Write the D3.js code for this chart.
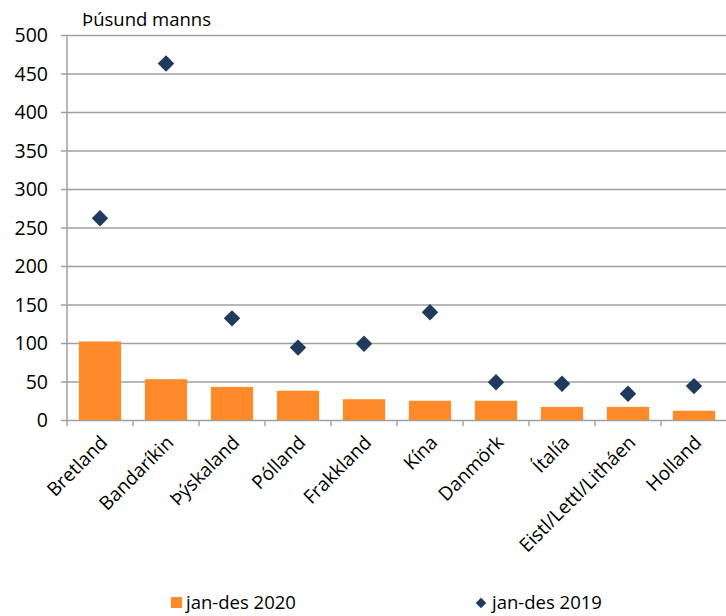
<!doctype html>
<html lang="is">
<head>
<meta charset="UTF-8">
<title>chart</title>
<script src="https://d3js.org/d3.v7.min.js"></script>
<style>
  body { margin: 0; background: #fff; }
  text { font-family: "Open Sans", sans-serif; fill: #000; }
</style>
</head>
<body>
<script>
  var countries = ["Bretland", "Bandaríkin", "Þýskaland", "Pólland", "Frakkland",
                   "Kína", "Danmörk", "Ítalía", "Eistl/Lettl/Litháen", "Holland"];
  var val2020 = [102, 53, 43, 38, 27, 25, 25, 17, 17, 12];
  var val2019 = [262, 463, 132, 94, 99, 140, 49, 47, 34, 44];
  var yTicks = [0, 50, 100, 150, 200, 250, 300, 350, 400, 450, 500];

  var width = 726, height = 616;
  var svg = d3.select("body").append("svg")
      .attr("width", width)
      .attr("height", height);

  var x = d3.scaleBand()
      .domain(countries)
      .range([67, 727])
      .paddingInner(0.36)
      .paddingOuter(0.18);

  var y = d3.scaleLinear()
      .domain([0, 500])
      .range([420, 35]);

  // grid
  svg.append("g")
      .attr("transform", "translate(67,0)")
      .call(d3.axisLeft(y).tickValues(yTicks).tickSize(-660).tickSizeOuter(0).tickFormat(""))
      .call(function(g) {
        g.select(".domain").remove();
        g.selectAll("line").attr("stroke", "#a0a0a0").attr("stroke-width", 1.5).attr("x1", -6);
      });

  // y axis labels
  svg.append("g")
      .selectAll("text")
      .data(yTicks)
      .enter().append("text")
      .attr("x", 48)
      .attr("y", function(d) { return y(d); })
      .attr("dy", "0.36em")
      .attr("text-anchor", "end")
      .style("font-size", "19.5px")
      .text(function(d) { return d; });

  // y axis line
  svg.append("line")
      .attr("x1", 67).attr("x2", 67)
      .attr("y1", y(500)).attr("y2", y(0))
      .attr("stroke", "#a0a0a0").attr("stroke-width", 1.5);

  // x ticks at band boundaries
  var step = x.step();
  var bounds = countries.map(function(c) { return x(c) - step * x.paddingInner() / 2; });
  bounds.push(bounds[bounds.length - 1] + step);
  svg.append("g")
      .selectAll("line")
      .data(bounds)
      .enter().append("line")
      .attr("x1", function(d) { return d; })
      .attr("x2", function(d) { return d; })
      .attr("y1", y(0)).attr("y2", y(0) + 6)
      .attr("stroke", "#a0a0a0").attr("stroke-width", 1.5);

  // bars
  svg.append("g")
      .selectAll("rect")
      .data(val2020)
      .enter().append("rect")
      .attr("x", function(d, i) { return x(countries[i]); })
      .attr("y", function(d) { return y(d); })
      .attr("width", x.bandwidth())
      .attr("height", function(d) { return y(0) - y(d); })
      .attr("fill", "#ff8a2a");

  // diamonds
  var diamond = d3.symbol().type(d3.symbolSquare).size(135);
  svg.append("g")
      .selectAll("path")
      .data(val2019)
      .enter().append("path")
      .attr("d", diamond)
      .attr("transform", function(d, i) {
        return "translate(" + (x(countries[i]) + x.bandwidth() / 2) + "," + y(d) + ") rotate(45)";
      })
      .attr("fill", "#1f3a5c");

  // x labels
  svg.append("g")
      .selectAll("text")
      .data(countries)
      .enter().append("text")
      .attr("transform", function(d) {
        return "translate(" + (x(d) + x.bandwidth() / 2) + ",435) rotate(-45)";
      })
      .attr("text-anchor", "end")
      .attr("dy", "0.65em")
      .style("font-size", "19px")
      .text(function(d) { return d; });

  // unit label
  svg.append("text")
      .attr("x", 82).attr("y", 26)
      .style("font-size", "18.5px")
      .text("Þúsund manns");

  // legend
  var lg = svg.append("g");
  lg.append("rect")
      .attr("x", 171).attr("y", 597).attr("width", 11).attr("height", 11)
      .attr("fill", "#ff8a2a");
  lg.append("text")
      .attr("x", 186).attr("y", 609)
      .style("font-size", "18.5px")
      .text("jan-des 2020");
  lg.append("path")
      .attr("d", d3.symbol().type(d3.symbolSquare).size(55))
      .attr("transform", "translate(481,603) rotate(45)")
      .attr("fill", "#1f3a5c");
  lg.append("text")
      .attr("x", 492).attr("y", 609)
      .style("font-size", "18.5px")
      .text("jan-des 2019");
</script>
</body>
</html>
